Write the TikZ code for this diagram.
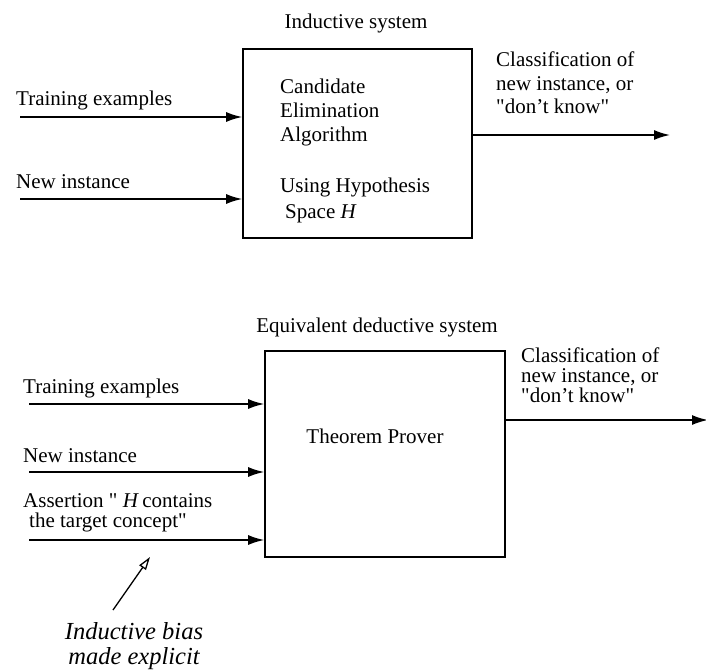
\documentclass[tikz,border=0pt]{standalone}
\usepackage{fontspec}
\setmainfont{Liberation Serif}[Ligatures=TeXOff]
\usetikzlibrary{arrows.meta}
\begin{document}
\begin{tikzpicture}[x=1pt,y=-1pt,
  lbl/.style={anchor=base west,inner sep=0pt,font=\fontsize{21}{24}\selectfont},
  ctr/.style={anchor=base,inner sep=0pt,font=\fontsize{21}{24}\selectfont},
  itl/.style={anchor=base,inner sep=0pt,align=center,font=\fontsize{24.5}{25}\selectfont\itshape},
  bigbox/.style={draw,line width=1.6pt,inner sep=0pt},
  flow/.style={line width=1.7pt,-{Latex[length=16pt,width=10pt]}},
  biasarrow/.style={line width=1.3pt,-{Triangle[open,length=13pt,width=8pt,line width=1.3pt]}}]
\useasboundingbox (0,0) rectangle (706,671);
% ---------- Inductive system ----------
\node[ctr] (ttl1) at (356,29) {Inductive system};
\node[bigbox,minimum width=229pt,minimum height=189pt] (ibox) at (357.5,143.5) {};
\node[lbl] (cand) at (280,94) {Candidate};
\node[lbl] (elim) at (280,118) {Elimination};
\node[lbl] (algo) at (280,142) {Algorithm};
\node[lbl] (using) at (280,193) {Using Hypothesis};
\node[lbl] (space) at (285,218) {Space \textit{H}};
\node[lbl] (tr1) at (16,106) {Training examples};
\node[lbl] (ni1) at (16,189) {New instance};
\coordinate (tr1s) at (20,117);
\coordinate (ni1s) at (20,199);
\draw[flow] (tr1s) -- (tr1s -| ibox.west);
\draw[flow] (ni1s) -- (ni1s -| ibox.west);
\node[lbl] (cl1a) at (496,67) {Classification of};
\node[lbl] (cl1b) at (496,91) {new instance, or};
\node[lbl] (cl1c) at (496,114) {"don’t know"};
\coordinate (out1) at (670,135);
\draw[flow] (ibox.east |- out1) -- (out1);
% ---------- Equivalent deductive system ----------
\node[ctr] (ttl2) at (377,332) {Equivalent deductive system};
\node[bigbox,minimum width=240pt,minimum height=206pt] (dbox) at (385,454) {};
\node[ctr] (tp) at (375,443) {Theorem Prover};
\node[lbl] (tr2) at (23,393) {Training examples};
\node[lbl] (ni2) at (23,462) {New instance};
\node[lbl] (as2a) at (23,507) {Assertion " \textit{H}\,contains};
\node[lbl] (as2b) at (29,527) {the target concept"};
\coordinate (tr2s) at (29,404);
\coordinate (ni2s) at (29,472);
\coordinate (as2s) at (29,540);
\draw[flow] (tr2s) -- (tr2s -| dbox.west);
\draw[flow] (ni2s) -- (ni2s -| dbox.west);
\draw[flow] (as2s) -- (as2s -| dbox.west);
\node[lbl] (cl2a) at (521,362) {Classification of};
\node[lbl] (cl2b) at (521,382) {new instance, or};
\node[lbl] (cl2c) at (521,402) {"don’t know"};
\coordinate (out2) at (708,420);
\draw[flow] (dbox.east |- out2) -- (out2);
% ---------- Inductive bias ----------
\node[itl] (bias) at (134,664) {Inductive bias\\made explicit};
\coordinate (biastail) at (113,610);
\coordinate (biashead) at (150,557);
\draw[biasarrow] (biastail) -- (biashead);
\end{tikzpicture}
\end{document}
